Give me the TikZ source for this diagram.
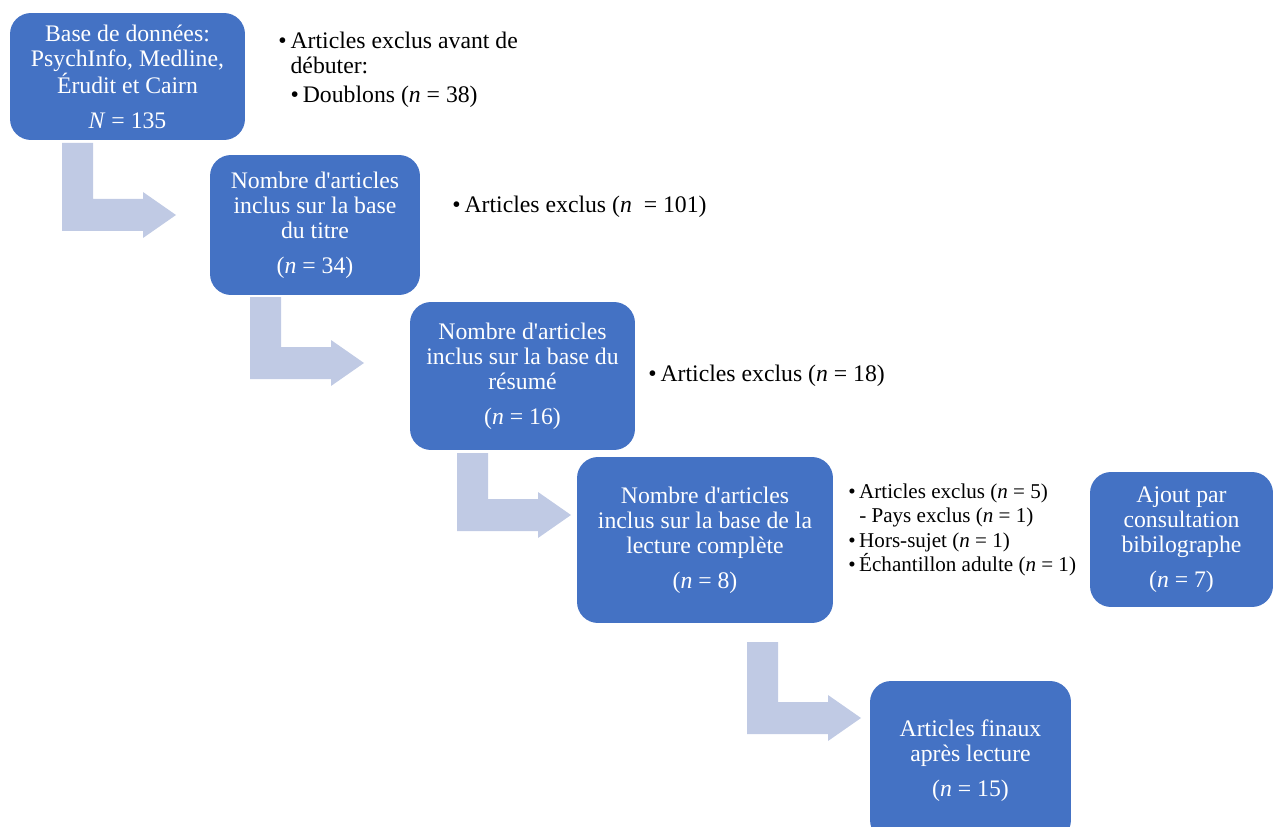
\documentclass[tikz,border=0pt]{standalone}
\usepackage{fontspec}
\setmainfont{Liberation Serif}
\definecolor{bleuboite}{HTML}{4472C4}
\definecolor{bleufleche}{RGB}{192,202,228}

\begin{document}
\begin{tikzpicture}[x=0.02cm,y=-0.02cm,
    boite/.style={rectangle, rounded corners=0.42cm, fill=bleuboite, text=white, align=center, inner sep=0pt, font=\fontsize{13.5}{14.2}\selectfont},
    liste/.style={anchor=west, align=left, inner sep=0pt, font=\fontsize{13.5}{14}\selectfont},
    petiteliste/.style={liste, font=\fontsize{12}{13.8}\selectfont},
    coude/.style={fill=bleufleche}]
    \useasboundingbox (0,0) rectangle (1273,827);
    \clip (0,0) rectangle (1273,827);
    % fleches coudees
    \fill[coude] (62,143) -- (93,143) -- (93,199) -- (143,199) -- (143,192) -- (176,215) -- (143,238) -- (143,231) -- (62,231) -- cycle;
    \fill[coude] (250,297) -- (281,297) -- (281,347) -- (331,347) -- (331,340) -- (364,363) -- (331,386) -- (331,379) -- (250,379) -- cycle;
    \fill[coude] (457,453) -- (488,453) -- (488,499) -- (538,499) -- (538,492) -- (571,515) -- (538,538) -- (538,531) -- (457,531) -- cycle;
    \fill[coude] (747,642) -- (778,642) -- (778,702) -- (828,702) -- (828,695) -- (861,718) -- (828,741) -- (828,734) -- (747,734) -- cycle;
    % boites
    \node[boite, minimum width=4.7cm, minimum height=2.54cm] (base) at (127.5,76.5) {Base de données:\\PsychInfo, Medline,\\Érudit et Cairn\\[0.2cm]\textit{N} = 135};
    \node[boite, minimum width=4.2cm, minimum height=2.8cm] (titre) at (315,225) {Nombre d\textquotesingle articles\\inclus sur la base\\du titre\\[0.2cm](\textit{n} = 34)};
    \node[boite, minimum width=4.5cm, minimum height=2.96cm] (resume) at (522.5,376) {Nombre d\textquotesingle articles\\inclus sur la base du\\résumé\\[0.2cm](\textit{n} = 16)};
    \node[boite, minimum width=5.12cm, minimum height=3.32cm] (lecture) at (705,540) {Nombre d\textquotesingle articles\\inclus sur la base de la\\lecture complète\\[0.2cm](\textit{n} = 8)};
    \node[boite, minimum width=3.66cm, minimum height=2.7cm] (ajout) at (1181.5,539.5) {Ajout par\\consultation\\bibilographe\\[0.2cm](\textit{n} = 7)};
    \node[boite, minimum width=4.02cm, minimum height=3.2cm] (finaux) at (970.5,761) {Articles finaux\\après lecture\\[0.2cm](\textit{n} = 15)};
    % exclusions
    \node[liste] (exclus0) at (278,70) {•\,Articles exclus avant de\\\phantom{•\,}débuter:\\[0.1cm]\phantom{•\,}•\,Doublons (\textit{n} = 38)};
    \node[liste] (exclus1) at (452,207) {•\,Articles exclus (\textit{n}\ \ = 101)};
    \node[liste] (exclus2) at (648,376) {•\,Articles exclus (\textit{n} = 18)};
    \node[petiteliste] (exclus3) at (848,530) {•\,Articles exclus (\textit{n} = 5)\\\phantom{•\,}- Pays exclus (\textit{n} = 1)\\•\,Hors-sujet (\textit{n} = 1)\\•\,Échantillon adulte (\textit{n} = 1)};
\end{tikzpicture}
\end{document}
